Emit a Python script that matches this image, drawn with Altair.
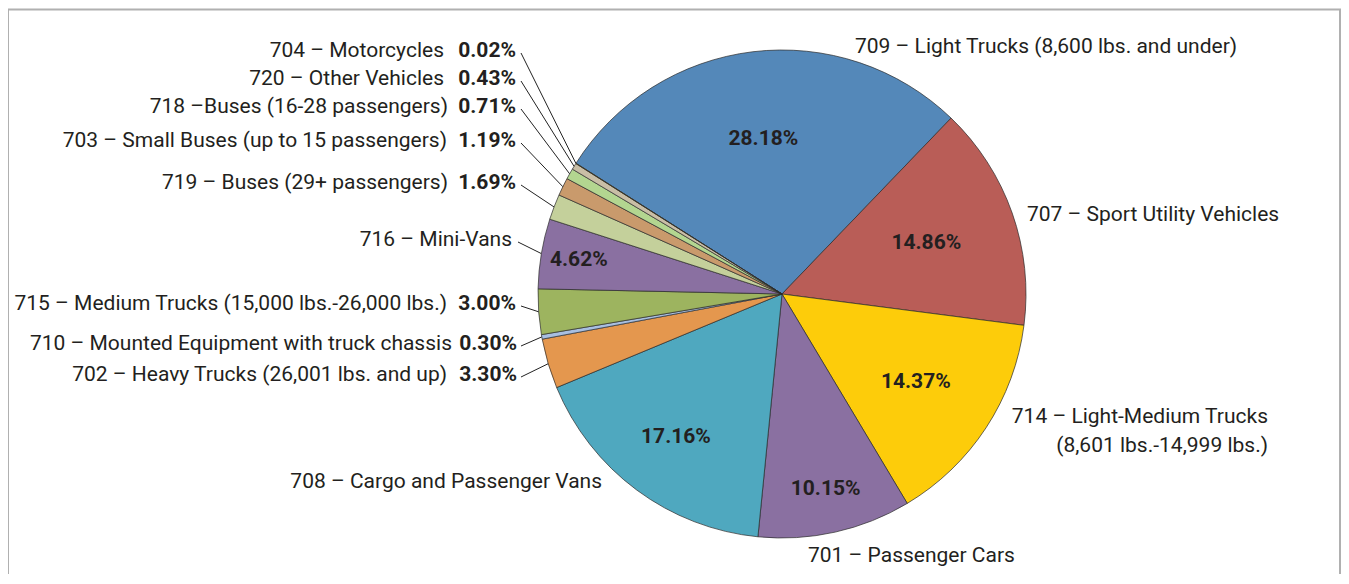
import math
import altair as alt
import pandas as pd

# ---------------- data ----------------
names = [
    "709 – Light Trucks (8,600 lbs. and under)",
    "707 – Sport Utility Vehicles",
    "714 – Light-Medium Trucks\n(8,601 lbs.-14,999 lbs.)",
    "701 – Passenger Cars",
    "708 – Cargo and Passenger Vans",
    "702 – Heavy Trucks (26,001 lbs. and up)",
    "710 – Mounted Equipment with truck chassis",
    "715 – Medium Trucks (15,000 lbs.-26,000 lbs.)",
    "716 – Mini-Vans",
    "719 – Buses (29+ passengers)",
    "703 – Small Buses (up to 15 passengers)",
    "718 –Buses (16-28 passengers)",
    "720 – Other Vehicles",
    "704 – Motorcycles",
]
shares = [28.18, 14.86, 14.37, 10.15, 17.16, 3.30, 0.30, 3.00, 4.62, 1.69, 1.19, 0.71, 0.43, 0.02]
colors = ["#5488b9", "#b95d57", "#fdcc0a", "#8a70a1", "#4fa8bf", "#e4974e", "#a8bfe1",
          "#9db45f", "#8a70a1", "#c4d09b", "#c99a6c", "#b3d690", "#c9bea6", "#fdcc0a"]
pct_inside = [True, True, True, True, True, False, False, False, True,
              False, False, False, False, False]
has_leader = [False, False, False, False, False, True, True, True, True,
              True, True, True, True, True]

# ---------------- layout ----------------
CX, CY, R = 774, 286, 244
A0 = math.radians(-57.6) + 2 * math.pi
name_x = [847, 1019, 1260, 800, 594, 439, 444, 439, 504, 440, 439, 440, 436, 436]
name_y = [39, 207, 409, 548, 474, 367, 336, 296, 232, 175, 133, 99, 71, 43]
name_align = ["left", "left", "right", "left", "right"] + ["right"] * 9
inner_r = [156, 153, 160, 200, 178, 0, 0, 0, 206, 0, 0, 0, 0, 0]
pct_x = [0, 0, 0, 0, 0, 509, 509, 508, 0, 508, 508, 508, 508, 508]
lead_x = [0, 0, 0, 0, 0, 513, 513, 513, 510, 513, 513, 513, 513, 513]

FONT = "Roboto"
TXT = "#231f20"
FS = 21
FSB = 21

df = pd.DataFrame({
    "idx": list(range(len(names))),
    "name": names,
    "value": shares,
    "inside": pct_inside,
    "leader": has_leader,
    "nx": name_x,
    "ny": name_y,
    "nalign": name_align,
    "ir": inner_r,
    "px": pct_x,
    "lx": lead_x,
})

base = (
    alt.Chart(df)
    .transform_joinaggregate(total="sum(value)")
    .transform_window(cum="sum(value)", sort=[alt.SortField("idx")], frame=[None, 0])
    .transform_calculate(
        mid=f"{A0} + 2*PI*(datum.cum - datum.value/2)/datum.total",
        pct="format(datum.value, '.2f') + '%'",
    )
    .transform_calculate(
        ex=f"{CX} + {R}*sin(datum.mid)",
        ey=f"{CY} - {R}*cos(datum.mid)",
        ix=f"{CX} + datum.ir*sin(datum.mid)",
        iy=f"{CY} - datum.ir*cos(datum.mid)",
        ly="datum.ny + 2",
    )
)

arcs = alt.Chart(df).mark_arc(radius=R, stroke="#2b2b2b", strokeWidth=0.7).encode(
    theta=alt.Theta("value:Q", stack=True,
                    scale=alt.Scale(range=[A0, A0 + 2 * math.pi])),
    color=alt.Color("name:N", scale=alt.Scale(domain=names, range=colors), legend=None),
    order=alt.Order("idx:Q"),
    x=alt.value(CX),
    y=alt.value(CY),
)

inner_text = base.transform_filter("datum.inside").mark_text(
    font=FONT, fontSize=FSB, fontWeight="bold", color=TXT, align="center", baseline="middle"
).encode(
    x=alt.X("ix:Q", scale=None), y=alt.Y("iy:Q", scale=None), text="pct:N"
)

names_left = base.transform_filter("datum.nalign == 'left'").mark_text(
    font=FONT, fontSize=FS, color=TXT, align="left", baseline="middle"
).encode(x=alt.X("nx:Q", scale=None), y=alt.Y("ny:Q", scale=None), text="name:N")

names_right = base.transform_filter("datum.nalign == 'right'").mark_text(
    font=FONT, fontSize=FS, color=TXT, align="right", baseline="middle",
    lineBreak="\n", lineHeight=29
).encode(x=alt.X("nx:Q", scale=None), y=alt.Y("ny:Q", scale=None), text="name:N")

outer_pct = base.transform_filter("!datum.inside").mark_text(
    font=FONT, fontSize=FSB, fontWeight="bold", color=TXT, align="right", baseline="middle"
).encode(x=alt.X("px:Q", scale=None), y=alt.Y("ny:Q", scale=None), text="pct:N")

leaders = base.transform_filter("datum.leader").mark_rule(color="#222", strokeWidth=1).encode(
    x=alt.X("lx:Q", scale=None), y=alt.Y("ly:Q", scale=None),
    x2="ex:Q", y2="ey:Q"
)

frame_df = pd.DataFrame({"k": [0]})
frame_top = alt.Chart(frame_df).mark_rule(color="#b0b0b0", strokeWidth=2).encode(
    x=alt.value(0), x2=alt.value(1333), y=alt.value(1.5))
frame_left = alt.Chart(frame_df).mark_rule(color="#b0b0b0", strokeWidth=2).encode(
    x=alt.value(0), y=alt.value(1.5), y2=alt.value(600))
frame_right = alt.Chart(frame_df).mark_rule(color="#b0b0b0", strokeWidth=2).encode(
    x=alt.value(1332), y=alt.value(1.5), y2=alt.value(600))

chart = alt.layer(
    arcs, leaders, inner_text, names_left, names_right, outer_pct,
    frame_top, frame_left, frame_right
).properties(
    width=1333, height=566, padding=0,
    autosize=alt.AutoSizeParams(type="none"),
).configure_view(stroke=None)

chart.save("out.html", embed_options={"renderer": "svg", "actions": False})
